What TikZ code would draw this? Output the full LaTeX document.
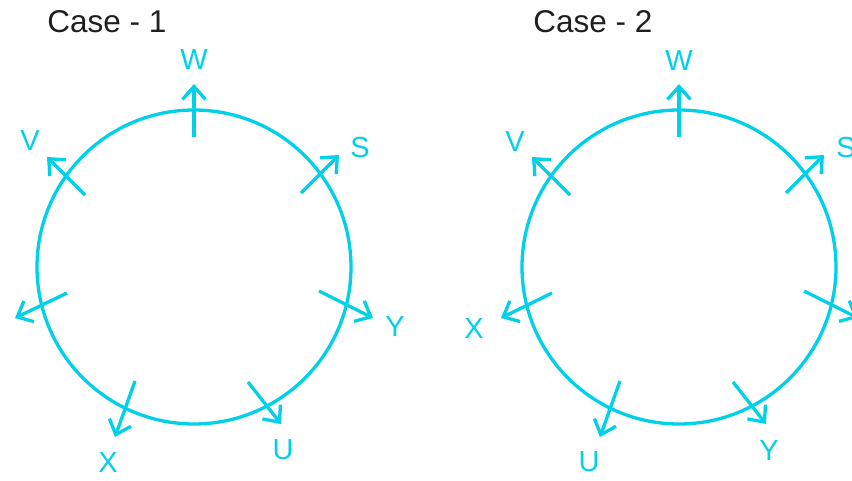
\documentclass[tikz,border=0pt]{standalone}
\usepackage{fontspec}
\setmainfont{Liberation Sans}
\usetikzlibrary{arrows.meta}
\definecolor{cy}{RGB}{0,208,232}
\tikzset{
  ring/.style={draw=cy,line width=3.3pt},
  ray/.style={draw=cy,line width=3.3pt,-{Straight Barb[length=13pt,width=23pt,line width=3.3pt]}},
  lab/.style={text=cy,font=\fontsize{29}{29}\selectfont,inner sep=0pt},
  title/.style={text=black!88,font=\fontsize{31.5}{31.5}\selectfont,inner sep=0pt}
}
\begin{document}
\begin{tikzpicture}[x=1pt,y=-1pt]
\useasboundingbox (0,0) rectangle (852,480);
% titles
\node[title] (t1) at (107,22) {Case - 1};
\node[title] (t2) at (593,22) {Case - 2};
% ---- Case 1 ----
\node[ring,circle,minimum size=314pt,inner sep=0pt] (c1) at (194,267) {};
\coordinate (w1a) at (194,137); \coordinate (w1b) at (194,84);
\coordinate (v1a) at (85,195);  \coordinate (v1b) at (47,157);
\coordinate (s1a) at (301,193); \coordinate (s1b) at (339,155);
\coordinate (l1a) at (67,293);  \coordinate (l1b) at (15,318);
\coordinate (y1a) at (319,291); \coordinate (y1b) at (373,318);
\coordinate (x1a) at (135,381); \coordinate (x1b) at (115,437);
\coordinate (u1a) at (248,382); \coordinate (u1b) at (281,424);
\draw[ray] (w1a) -- (w1b);
\draw[ray] (v1a) -- (v1b);
\draw[ray] (s1a) -- (s1b);
\draw[ray] (l1a) -- (l1b);
\draw[ray] (y1a) -- (y1b);
\draw[ray] (x1a) -- (x1b);
\draw[ray] (u1a) -- (u1b);
\node[lab] (W1) at (194,60) {W};
\node[lab] (V1) at (30,141) {V};
\node[lab] (S1) at (360,148) {S};
\node[lab] (Y1) at (395,327) {Y};
\node[lab] (X1) at (108,463) {X};
\node[lab] (U1) at (283,450) {U};
% ---- Case 2 ----
\node[ring,circle,minimum size=314pt,inner sep=0pt] (c2) at (679,267) {};
\coordinate (w2a) at (679,137); \coordinate (w2b) at (679,84);
\coordinate (v2a) at (570,195); \coordinate (v2b) at (532,157);
\coordinate (s2a) at (786,193); \coordinate (s2b) at (824,155);
\coordinate (x2a) at (552,293); \coordinate (x2b) at (501,318);
\coordinate (r2a) at (804,291); \coordinate (r2b) at (858,318);
\coordinate (u2a) at (620,381); \coordinate (u2b) at (600,437);
\coordinate (y2a) at (733,382); \coordinate (y2b) at (766,424);
\draw[ray] (w2a) -- (w2b);
\draw[ray] (v2a) -- (v2b);
\draw[ray] (s2a) -- (s2b);
\draw[ray] (x2a) -- (x2b);
\draw[ray] (r2a) -- (r2b);
\draw[ray] (u2a) -- (u2b);
\draw[ray] (y2a) -- (y2b);
\node[lab] (W2) at (679,61) {W};
\node[lab] (V2) at (515,142) {V};
\node[lab] (S2) at (846,148) {S};
\node[lab] (X2) at (474,329) {X};
\node[lab] (U2) at (589,462) {U};
\node[lab] (Y2) at (769,451) {Y};
\end{tikzpicture}
\end{document}
